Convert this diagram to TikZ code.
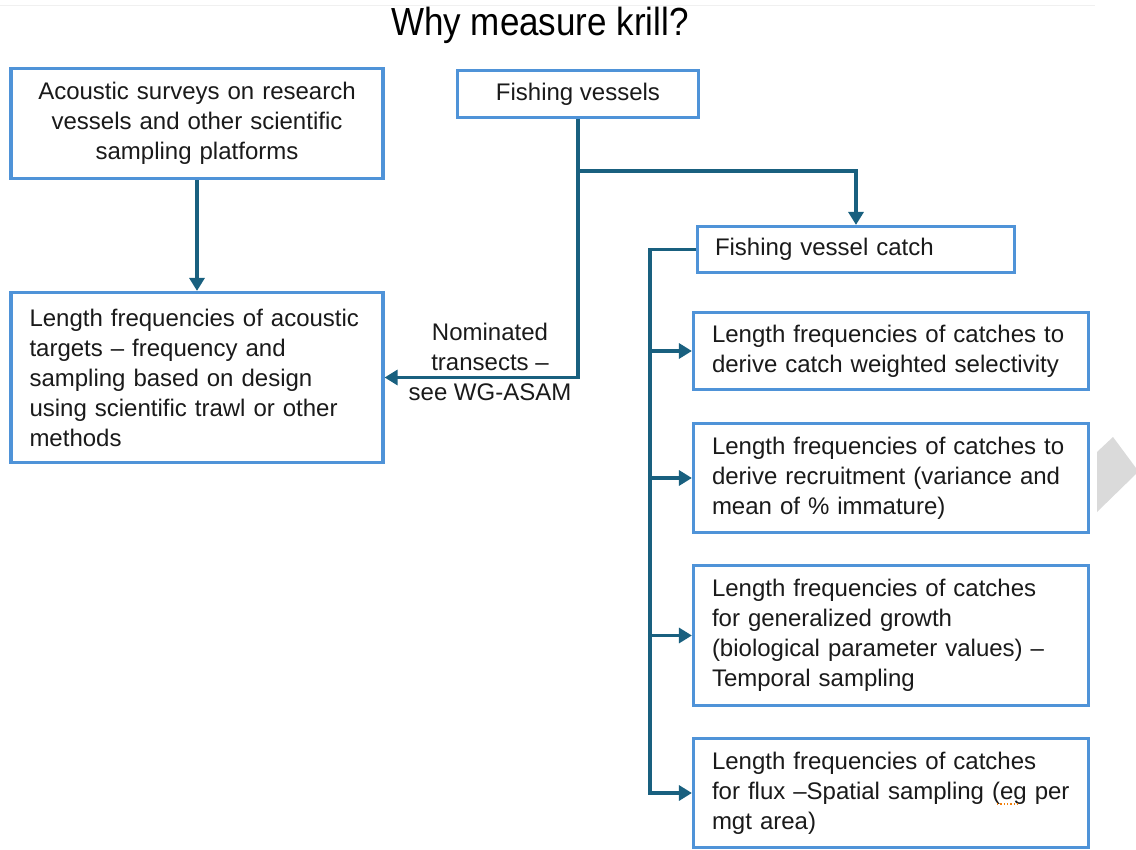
\documentclass[tikz,border=0pt]{standalone}
\usepackage{fontspec}
\setmainfont{Liberation Sans}
\usetikzlibrary{arrows.meta}
\definecolor{boxblue}{HTML}{4F93D8}
\definecolor{conncol}{HTML}{19607F}
\definecolor{txt}{HTML}{1A1A1A}
\definecolor{navgray}{HTML}{DADADA}
\begin{document}
\begin{tikzpicture}[x=1pt,y=-1pt,
  box/.style={draw=boxblue, line width=3.2pt, fill=white, inner ysep=2pt,
    font=\fontsize{24}{30}\selectfont, text=txt},
  conn/.style={draw=conncol, line width=3.6pt},
  arr/.style={conn, -{Triangle[length=13pt,width=15pt]}},
]
\useasboundingbox (0,0) rectangle (1136,850);
\draw[draw=black!6, line width=1pt] (0,6) -- (1095,6);
\fill[navgray] (1097,452) -- (1113,437) -- (1136,468) -- (1136,474) -- (1097,512) -- cycle;

\node[font=\fontsize{35}{40}\selectfont, text=black, yscale=1.12, xscale=1.0] (title) at (540,25) {Why measure krill?};

\node[box, minimum width=372, minimum height=110, inner xsep=18, text width=336, align=center] (A) at (197,123.5)
  {Acoustic surveys on research\\vessels and other scientific\\sampling platforms};
\node[box, minimum width=241, minimum height=47, align=center] (F) at (578,94) {Fishing vessels};
\node[box, minimum width=372, minimum height=170, inner xsep=18.5, text width=335, align=left] (B) at (197,377.5)
  {Length frequencies of acoustic\\targets -- frequency and\\sampling based on design\\using scientific trawl or other\\methods};
\node[box, minimum width=317, minimum height=46, inner xsep=17.5, text width=282, align=left] (C) at (856,249.5)
  {Fishing vessel catch};
\node[box, minimum width=395, minimum height=77, inner xsep=18.5, text width=358, align=left] (D1) at (891,351)
  {Length frequencies of catches to\\derive catch weighted selectivity};
\node[box, minimum width=395, minimum height=109, inner xsep=18.5, text width=358, align=left] (D2) at (891,478)
  {Length frequencies of catches to\\derive recruitment (variance and\\mean of \% immature)};
\node[box, minimum width=395, minimum height=140, inner xsep=18.5, text width=358, align=left] (D3) at (891,635.5)
  {Length frequencies of catches\\for generalized growth\\(biological parameter values) --\\Temporal sampling};
\node[box, minimum width=395, minimum height=109, inner xsep=18.5, text width=358, align=left] (D4) at (891,793)
  {Length frequencies of catches\\for flux --Spatial sampling (eg per\\mgt area)};
\draw[orange!80!brown, line width=1.3pt, dotted] (997,804) -- (1019,804);

\node[font=\fontsize{24}{30}\selectfont, text=txt, align=center] (lbl) at (490,362)
  {Nominated\\transects --\\see WG-ASAM};

\draw[arr] (A) -- (B);
\draw[arr] (F.south) |- (B.east);
\coordinate (br) at (578,171);
\draw[arr] (br) -| (C.north);
\coordinate (bus) at (650,249.5);
\draw[arr] (C.west) -- (bus) |- (D4.west);
\draw[arr] (D1.west -| bus) -- (D1.west);
\draw[arr] (D2.west -| bus) -- (D2.west);
\draw[arr] (D3.west -| bus) -- (D3.west);
\end{tikzpicture}
\end{document}
